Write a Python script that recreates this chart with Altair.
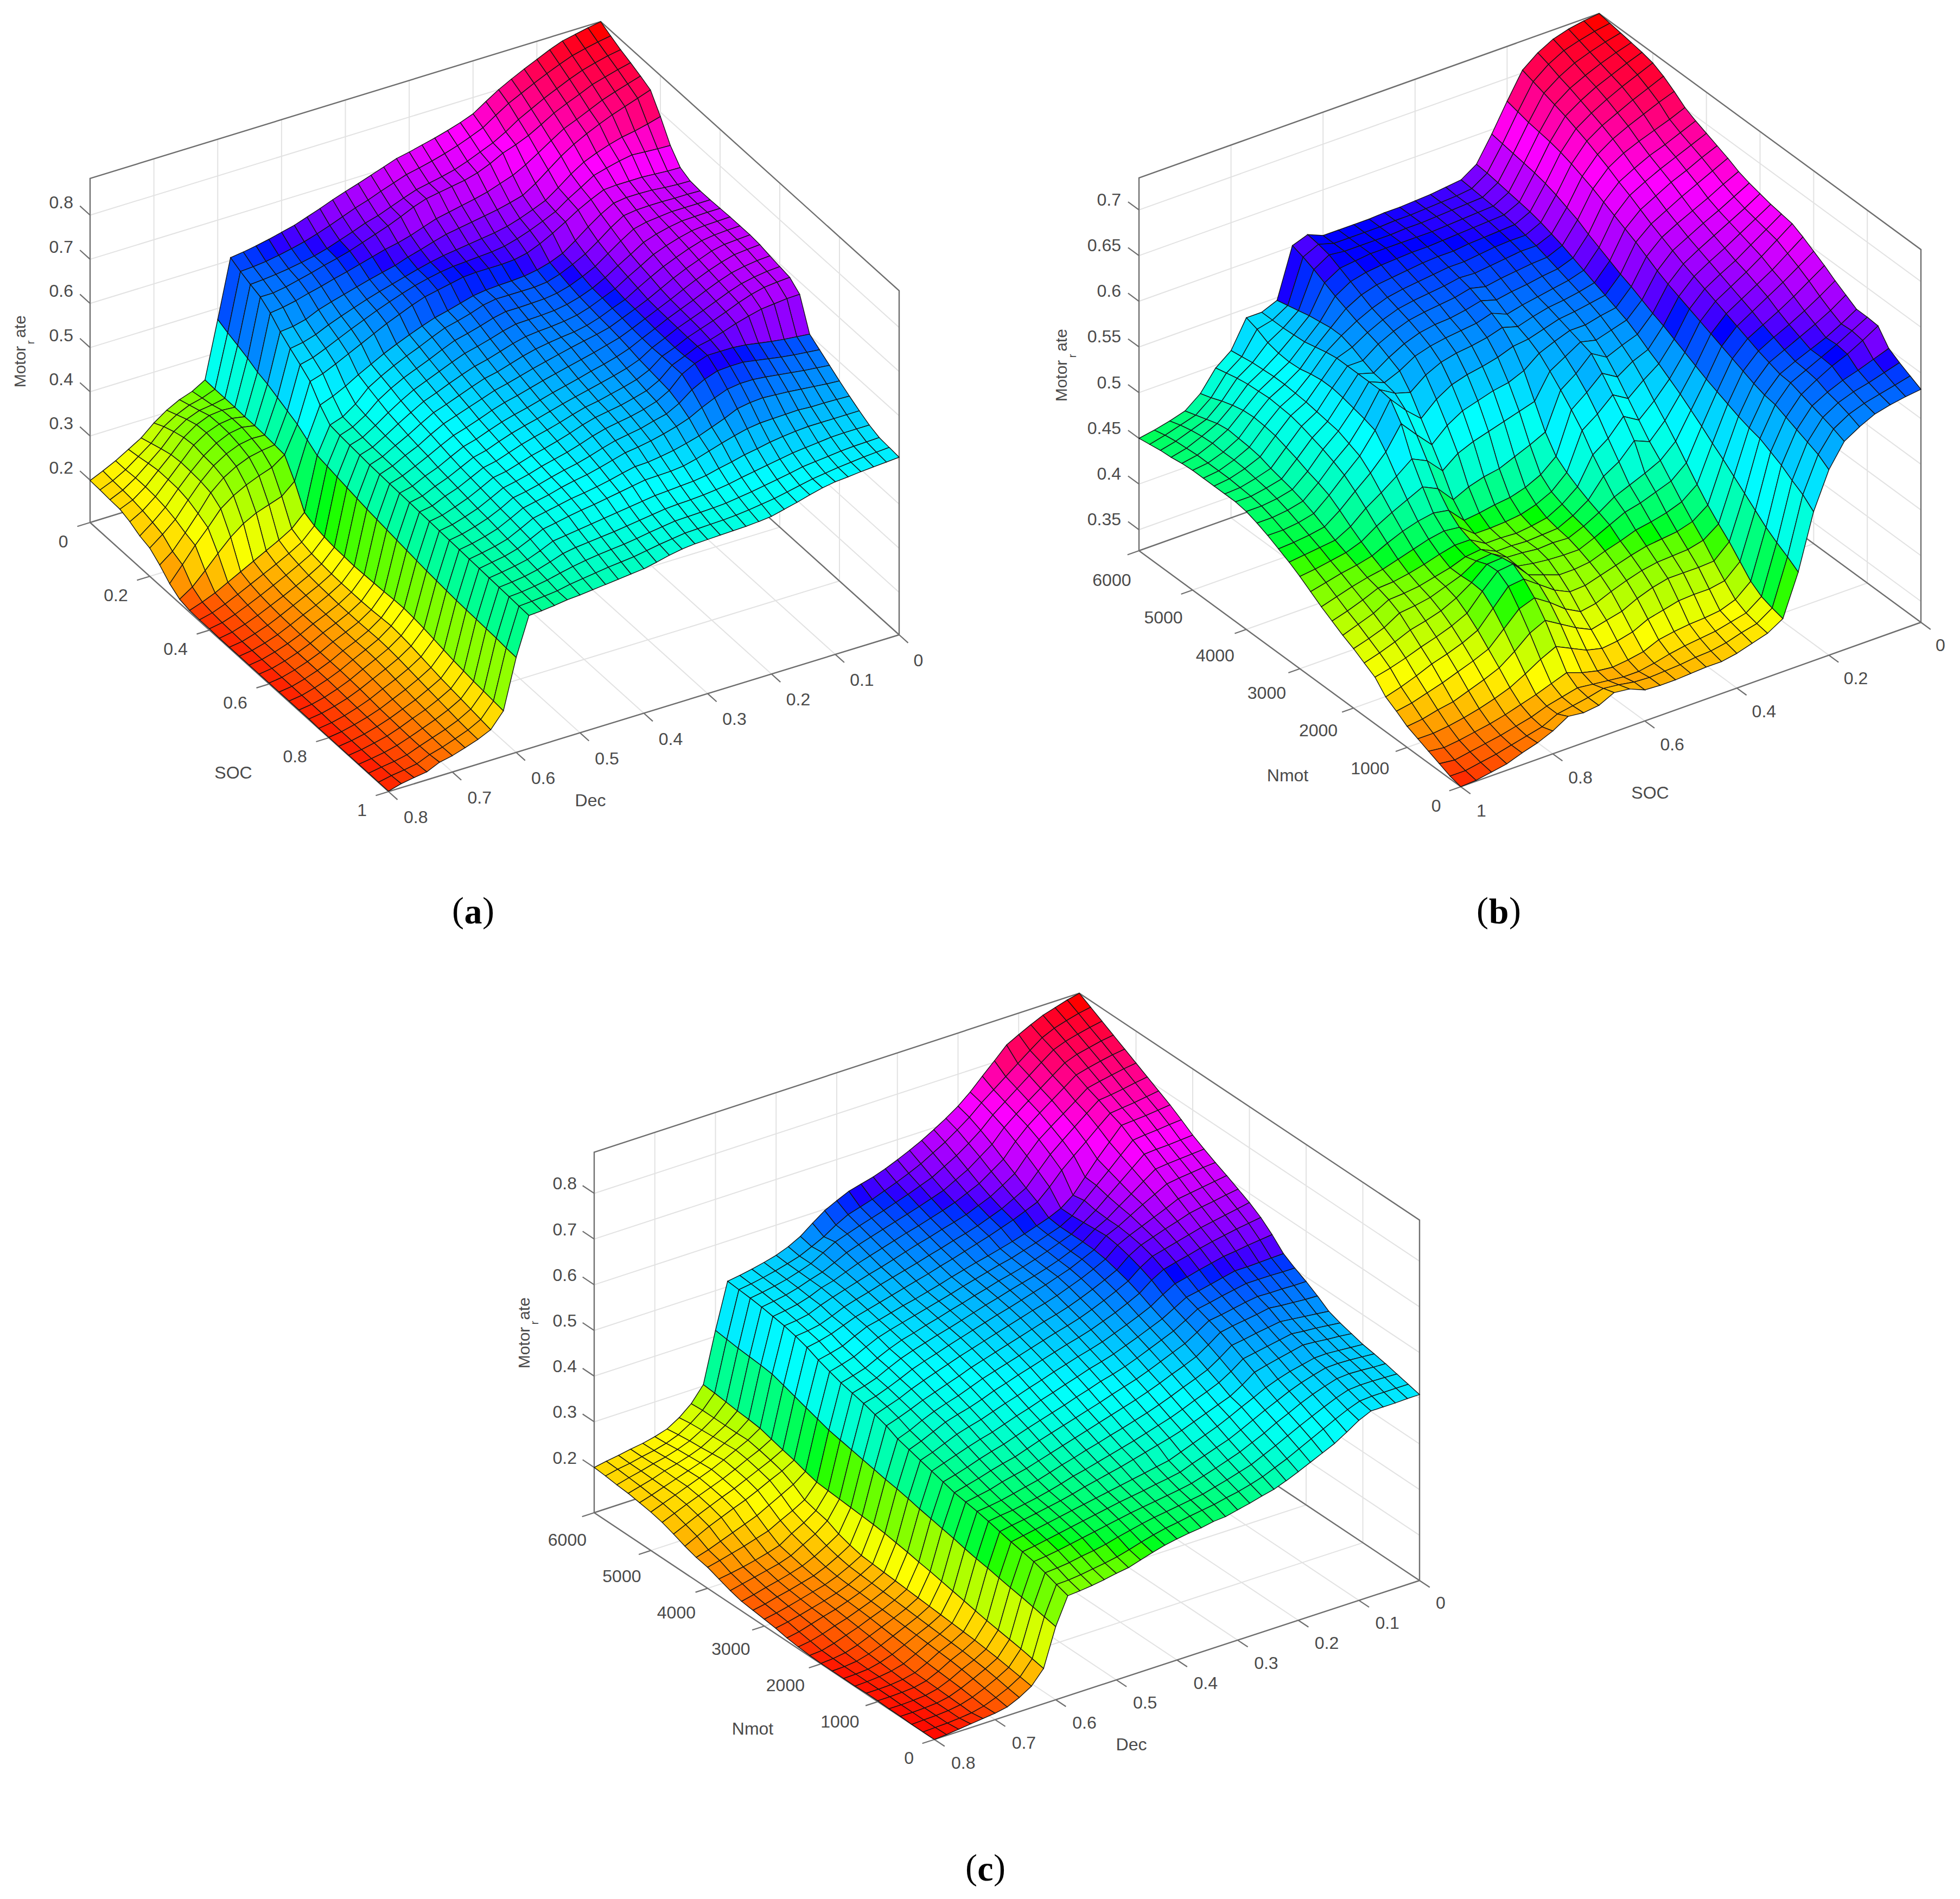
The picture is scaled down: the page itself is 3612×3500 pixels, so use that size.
import altair as alt

# Surface heights, in thousandths (each row: one line of the mesh)
Z_A = [
[883,878,872,866,855,842,829,815,800,782, 763,752,743,735,728,721,715,705,695,685, 676,666,655,645,635,628,621,615,610,606, 475,347,330,320,305,285,260,243,226,212, 199],
[871,866,860,853,842,830,817,803,789,771, 752,740,729,720,712,705,699,689,679,668, 659,648,637,627,618,611,605,600,597,595, 465,346,335,328,315,297,268,247,226,210, 198],
[860,855,848,840,829,816,803,788,773,754, 738,726,714,704,697,691,685,675,664,653, 645,634,624,614,606,600,595,591,588,586, 457,346,340,336,325,306,276,252,228,209, 196],
[851,844,836,828,815,803,790,773,757,745, 735,720,708,700,695,690,685,675,662,650, 640,630,620,612,605,597,590,583,578,578, 448,346,348,345,333,313,283,256,228,207, 195],
[841,832,823,813,800,787,775,757,738,720, 705,695,685,678,672,666,660,650,640,632, 626,618,610,602,595,587,580,572,566,562, 437,345,350,346,335,316,286,256,226,203, 187],
[830,820,810,800,788,775,760,742,720,698, 680,672,665,660,655,650,645,637,628,620, 610,603,596,588,580,572,563,550,543,540, 430,345,350,345,332,312,285,255,222,197, 175],
[790,782,775,770,762,752,740,722,700,680, 668,657,648,642,638,634,630,626,620,613, 605,597,589,580,570,560,549,536,527,522, 420,344,345,340,328,310,283,250,215,190, 168],
[745,746,748,750,745,738,730,712,695,675, 662,650,640,632,628,626,624,622,618,612, 605,596,586,575,563,551,538,525,513,506, 410,342,338,332,320,303,278,240,205,172, 150],
[715,716,718,720,720,720,718,705,690,672, 655,640,628,622,620,620,620,618,612,606, 600,590,578,566,552,538,524,510,497,488, 400,340,320,310,298,283,262,228,197,162, 128],
[705,706,708,711,712,712,708,692,672,650, 630,618,610,605,603,602,600,596,588,580, 573,563,552,540,527,512,497,480,466,455, 385,300,275,265,255,240,218,190,160,132, 113],
[703,704,704,705,705,704,700,682,660,640, 625,612,603,600,600,600,600,595,585,577, 570,558,545,533,520,505,488,460,440,430, 370,250,222,205,190,175,160,145,130,118, 108],
[703,703,703,703,700,697,690,672,652,632, 618,606,598,594,593,592,592,586,577,569, 562,550,537,525,513,498,480,455,437,427, 366,240,212,195,180,166,152,138,125,114, 107],
[704,704,703,702,697,690,680,662,645,627, 612,601,593,588,586,585,584,577,568,560, 553,542,530,518,506,490,472,452,434,425, 362,235,206,190,175,161,147,134,122,112, 107],
[705,704,703,700,693,684,673,656,640,622, 610,598,589,584,581,579,576,569,560,551, 544,534,523,511,500,484,467,449,432,423, 358,232,203,186,171,157,144,131,120,111, 106],
[705,704,702,698,689,678,666,651,635,618, 607,595,586,580,577,573,568,561,552,543, 537,527,516,505,495,479,462,447,431,421, 354,231,201,184,170,156,142,129,119,110, 106],
[705,703,701,695,684,673,660,645,630,617, 605,593,586,580,574,567,560,553,545,537, 530,520,510,500,490,475,458,445,430,420, 350,230,200,183,168,155,141,128,118,110, 106],
[703,701,698,690,680,668,655,641,628,615, 602,590,582,574,567,560,553,546,538,530, 523,514,503,493,484,470,455,441,428,419, 347,231,200,182,168,155,140,128,118,110, 106],
[698,696,692,686,676,664,651,639,627,613, 600,586,576,568,561,553,546,539,531,523, 516,508,498,487,479,465,450,439,425,418, 344,232,200,182,168,155,140,128,118,110, 106],
[694,692,688,682,672,660,648,637,626,612, 599,581,570,562,555,548,541,534,526,518, 511,503,493,482,475,461,447,436,423,417, 341,233,201,182,168,155,140,128,118,110, 106],
[690,688,685,678,668,656,645,635,625,611, 600,578,565,557,550,543,538,530,521,513, 506,498,488,478,472,458,444,434,421,416, 338,235,203,183,168,155,140,128,118,110, 106],
[672,671,668,665,658,650,640,631,625,612, 600,575,560,552,545,540,535,527,517,508, 500,493,484,475,470,455,441,430,420,415, 335,236,205,184,169,155,140,128,118,110, 106],
[602,605,608,612,617,622,625,625,625,615, 600,572,556,547,540,535,530,522,512,503, 496,489,480,473,467,452,438,428,419,414, 332,234,203,183,168,154,139,127,117,110, 106],
[587,590,593,597,602,607,612,612,610,600, 585,563,548,541,533,528,523,515,506,498, 492,485,477,470,465,449,436,426,418,413, 330,231,200,181,166,152,138,126,117,110, 106],
[572,575,578,582,586,590,593,593,589,578, 565,550,540,532,525,520,516,508,500,493, 488,482,474,468,462,447,433,424,417,412, 328,227,196,178,163,150,136,125,116,109, 105],
[557,559,562,565,568,570,572,570,565,552, 541,530,522,515,510,506,505,499,492,486, 481,477,471,465,459,444,430,422,416,411, 326,223,192,175,160,147,134,124,116,109, 105],
[543,544,545,545,547,546,545,544,540,533, 525,516,507,500,497,496,495,490,485,480, 475,471,466,460,455,441,428,420,415,410, 325,219,188,172,157,145,133,123,115,109, 105],
[530,530,530,530,530,528,525,521,515,510, 503,497,490,486,484,482,480,476,472,468, 464,460,456,452,448,435,424,418,413,409, 324,216,185,169,155,144,132,122,115,109, 105],
[518,518,518,517,514,511,508,503,498,493, 488,482,478,475,473,472,470,466,462,458, 454,451,448,445,440,430,421,415,411,408, 323,213,182,166,153,142,131,121,114,109, 105],
[510,509,508,506,503,500,497,491,486,481, 476,472,468,466,465,464,463,459,455,450, 446,443,440,436,431,425,418,413,409,407, 322,211,179,163,151,141,131,120,114,110, 105],
[508,506,504,501,498,494,490,484,478,472, 468,464,461,459,458,457,456,452,448,443, 438,435,432,428,424,420,414,411,408,406, 320,209,176,161,150,140,132,120,115,111, 105],
[506,504,502,500,497,495,490,483,475,468, 461,458,456,455,454,453,452,449,444,437, 431,428,425,422,419,416,414,410,407,405, 319,207,173,160,150,141,135,122,118,113, 105],
]
Z_B = [
[735,733,731,729,727,724,718,710,701,695, 690,685,680,674,670,667,664,662,660,654, 647,640,632,625,618,618,617,601,594,588, 582],
[733,730,727,724,721,717,711,704,694,688, 683,678,672,666,661,657,654,651,648,642, 636,629,621,614,608,609,607,595,589,584, 580],
[730,726,722,718,714,710,704,697,688,681, 676,670,664,657,652,648,644,640,636,630, 625,618,611,605,599,600,598,589,584,580, 577],
[725,721,716,711,707,702,696,690,682,675, 669,663,656,649,644,639,634,629,625,620, 615,608,602,597,592,592,591,584,580,576, 573],
[716,712,707,703,698,693,688,682,675,667, 661,654,647,641,635,630,625,620,615,610, 605,599,594,589,585,584,582,577,574,570, 565],
[703,699,695,691,687,682,677,671,665,658, 652,645,638,632,626,620,615,610,605,600, 595,590,585,581,577,576,572,568,564,560, 555],
[675,672,669,667,665,662,658,653,648,642, 636,630,624,617,610,604,599,594,589,584, 579,574,569,564,560,558,553,548,543,538, 530],
[645,643,641,639,637,634,630,625,620,613, 607,601,595,590,584,578,573,567,561,555, 549,544,539,534,530,527,521,515,507,500, 490],
[618,617,615,613,611,609,606,602,598,593, 588,583,578,573,568,561,553,546,538,530, 521,512,502,493,483,473,463,453,445,438, 430],
[607,606,605,604,603,601,598,595,591,587, 583,579,575,570,563,555,546,534,520,507, 493,478,463,449,437,426,413,400,392,388, 385],
[605,604,604,603,602,600,598,595,590,585, 580,576,572,566,558,548,535,520,505,490, 478,464,450,437,425,411,398,386,380,377, 375],
[603,603,603,602,601,599,597,593,588,582, 577,574,570,566,562,558,545,530,515,497, 470,458,444,432,421,410,395,380,376,373, 370],
[602,602,602,601,600,598,595,591,586,580, 574,570,565,560,552,542,530,515,497,480, 463,452,440,430,420,410,395,378,372,368, 365],
[601,601,601,600,599,596,593,589,583,577, 570,565,560,553,542,530,517,503,485,470, 456,448,437,428,419,410,394,377,370,365, 362],
[601,601,601,600,598,596,593,590,587,582, 577,570,558,540,515,490,472,463,456,450, 445,440,431,424,416,406,390,375,368,364, 362],
[600,600,600,600,598,595,591,587,583,578, 572,565,552,533,510,482,458,448,443,439, 436,432,426,419,411,400,386,372,365,362, 361],
[600,600,600,600,597,593,589,585,581,575, 570,562,548,530,505,475,450,440,434,431, 429,425,420,414,405,392,378,365,361,361, 360],
[600,600,600,600,596,591,587,583,579,574, 568,560,545,525,500,468,445,435,431,430, 430,425,418,409,398,388,374,362,358,360, 360],
[600,600,600,598,594,589,584,580,576,571, 565,556,540,520,495,465,443,433,429,429, 429,426,418,408,395,384,372,360,358,361, 361],
[607,605,602,596,590,584,578,574,570,565, 560,548,530,510,488,460,440,432,430,430, 431,428,424,416,404,392,376,362,360,364, 368],
[601,597,592,586,580,575,570,566,562,556, 550,535,515,495,475,452,438,432,430,430, 432,431,430,428,417,402,384,366,362,366, 370],
[547,550,553,556,558,560,560,556,550,545, 543,540,530,512,492,470,455,445,440,438, 442,446,448,440,428,412,392,372,364,362, 362],
[540,540,540,541,542,545,548,550,550,550, 550,550,548,530,500,478,458,447,440,436, 440,445,446,438,422,404,384,366,360,359, 360],
[540,536,530,527,526,527,530,532,532,530, 527,524,520,505,487,470,455,444,436,430, 430,431,430,420,406,390,374,360,356,356, 362],
[510,512,514,515,516,516,515,514,512,510, 508,503,498,488,475,462,450,439,431,426, 424,420,412,402,390,378,365,355,350,348, 352],
[497,500,503,505,506,507,506,505,502,498, 494,489,483,474,464,453,443,434,427,422, 418,412,404,394,383,371,359,350,346,344, 345],
[475,479,484,488,491,492,491,489,485,481, 476,472,467,459,450,442,435,429,424,420, 415,407,398,388,377,365,354,346,342,340, 340],
[462,466,470,474,476,475,474,472,468,465, 462,458,453,447,441,436,431,426,423,419, 413,403,393,383,371,359,350,343,339,336, 334],
[457,461,464,466,467,466,466,465,463,461, 458,454,449,444,439,433,428,422,416,410, 403,396,387,376,366,356,347,340,336,333, 331],
[453,456,458,459,460,460,460,460,459,458, 456,452,447,442,437,430,424,417,410,404, 397,390,382,370,361,352,345,338,333,330, 328],
[450,452,454,455,457,458,458,458,458,458, 456,452,447,441,435,428,420,412,405,398, 392,385,378,365,358,350,345,340,335,330, 327],
]
Z_C = [
[890,884,876,868,856,843,829,803,778,752, 730,712,696,681,668,656,645,636,629,622, 610,597,578,558,544,534,527,521,516,512, 413,303,270,248,232,224,218,214,209,205, 200],
[876,871,864,856,844,825,805,785,765,745, 722,703,685,670,655,643,632,622,612,604, 596,582,565,552,540,532,525,519,514,510, 410,301,272,252,236,226,219,214,208,204, 198],
[862,857,851,844,834,815,795,775,755,735, 710,690,672,657,642,632,622,613,604,596, 588,579,570,555,540,531,523,517,512,508, 407,298,272,254,239,229,221,215,208,202, 195],
[848,844,838,832,822,803,784,765,745,724, 696,677,658,644,630,621,612,604,596,588, 580,572,563,550,538,530,521,514,509,505, 405,295,272,256,241,231,223,216,207,200, 193],
[834,830,825,819,812,793,774,755,735,710, 680,662,644,632,620,611,603,595,588,580, 572,564,556,546,536,529,518,510,505,501, 403,293,272,258,244,233,224,215,206,197, 189],
[820,816,811,806,800,780,761,742,722,695, 665,648,632,621,610,602,595,587,580,572, 564,556,549,541,533,525,516,505,500,497, 400,290,273,260,247,235,225,215,205,195, 185],
[806,802,797,793,790,770,749,728,706,678, 650,636,622,612,602,594,587,579,572,564, 557,550,543,535,528,520,509,499,494,491, 392,283,268,256,243,231,221,211,201,190, 179],
[792,788,784,781,778,756,733,711,688,660, 636,625,614,605,596,588,580,572,565,557, 550,543,536,529,522,515,505,495,488,483, 384,276,262,250,238,226,216,205,194,182, 170],
[778,775,772,770,768,740,712,681,650,630, 618,609,600,592,585,578,572,565,558,550, 543,536,530,523,516,510,498,485,478,472, 376,270,255,243,230,218,208,197,186,173, 160],
[762,760,757,755,752,728,703,679,655,630, 615,606,597,589,581,575,568,561,554,546, 539,532,525,518,511,503,491,478,470,463, 368,262,242,228,214,200,190,180,170,160, 152],
[745,743,741,740,738,716,694,672,650,632, 615,605,595,586,578,571,565,557,550,542, 535,527,520,512,505,495,483,470,462,455, 360,255,225,210,197,183,175,167,160,153, 147],
[731,729,727,725,722,704,685,667,648,634, 615,603,592,583,575,568,561,553,546,538, 530,522,515,507,499,490,478,465,456,449, 355,253,218,200,185,168,160,153,147,142, 138],
[718,716,713,710,706,692,678,663,648,636, 614,602,590,581,572,564,556,548,541,533, 525,517,509,500,492,483,471,460,450,443, 350,251,212,192,177,162,153,147,141,135, 129],
[706,702,698,694,690,678,667,656,645,632, 610,597,585,575,565,557,550,542,534,526, 518,510,502,493,484,475,465,453,444,435, 345,249,200,183,168,156,148,141,135,128, 122],
[693,689,684,680,675,666,658,649,640,625, 603,590,578,567,557,549,542,534,526,518, 510,502,494,484,475,466,457,446,436,427, 340,247,192,176,162,151,144,137,131,124, 119],
[680,675,670,665,660,653,646,639,632,616, 595,582,570,559,549,541,534,526,518,510, 502,494,486,476,466,458,449,438,425,415, 335,245,186,171,158,148,141,134,127,121, 116],
[664,660,656,651,646,640,633,627,620,605, 585,572,560,550,540,532,525,517,509,501, 493,484,476,466,457,450,442,430,418,408, 331,242,184,169,156,146,138,131,124,118, 113],
[643,640,637,633,630,624,618,611,605,590, 573,561,550,540,530,522,515,507,499,490, 482,473,465,456,447,440,432,421,410,401, 326,238,182,167,155,145,136,129,121,113, 108],
[618,617,616,615,615,609,603,597,592,577, 562,551,540,530,520,512,505,496,488,479, 471,462,454,445,436,429,421,412,403,394, 320,234,180,165,153,143,133,125,116,109, 105],
[603,603,604,604,604,599,594,588,583,567, 552,541,530,519,509,501,494,485,477,468, 460,452,444,435,426,419,411,402,394,387, 315,229,178,163,151,141,130,121,112,105, 103],
[590,590,591,591,592,588,583,578,574,557, 541,530,519,508,498,490,482,473,465,457, 449,441,433,424,415,409,402,394,387,380, 310,225,176,161,149,138,127,116,108,104, 102],
[575,576,578,580,583,578,574,570,565,546, 529,518,508,497,487,478,470,462,454,446, 438,430,422,414,406,400,394,386,381,376, 305,220,174,159,147,135,123,113,106,103, 102],
[558,561,564,567,570,566,562,557,553,534, 517,506,496,485,475,466,458,450,443,435, 428,420,413,405,397,391,385,379,375,372, 299,215,172,157,145,132,120,111,105,103, 102],
[549,552,555,557,560,555,550,545,540,521, 505,494,484,473,463,455,447,439,432,425, 418,411,405,397,390,384,379,374,371,367, 294,210,170,155,143,129,116,109,105,103, 102],
[542,545,547,550,552,546,540,534,527,508, 492,482,472,462,452,444,437,430,423,416, 410,404,398,391,385,380,375,370,366,361, 290,205,168,153,141,126,113,107,104,103, 103],
[535,537,539,541,540,534,528,520,510,497, 485,472,460,450,440,430,420,415,410,405, 400,395,390,385,380,375,370,365,360,355, 285,200,166,151,139,124,112,106,104,103, 103],
[531,533,535,536,535,528,520,510,498,486, 473,460,448,439,430,421,411,406,402,397, 393,389,384,379,374,369,364,359,354,350, 280,196,163,148,136,122,111,105,103,102, 102],
[526,527,529,530,528,520,511,500,487,475, 461,449,437,428,419,411,403,398,394,390, 386,382,377,372,367,362,357,352,348,345, 276,192,160,145,132,120,110,105,103,102, 102],
[520,521,522,522,520,511,500,488,476,463, 450,438,426,418,410,403,396,392,388,384, 380,375,369,363,356,351,347,342,339,337, 271,188,156,141,128,117,109,105,103,102, 101],
[514,514,514,514,512,502,490,477,464,451, 438,427,416,408,401,396,390,386,382,377, 373,367,360,352,345,340,336,332,329,328, 266,183,152,136,124,114,108,105,103,102, 101],
[508,508,507,507,507,495,478,462,450,438, 426,415,405,399,392,386,380,378,373,370, 366,361,354,346,338,334,329,325,322,320, 261,178,148,132,120,115,112,109,106,103, 101],
]

HSV = ["#ff0000", "#ffff00", "#00ff00", "#00ffff", "#0000ff", "#ff00ff", "#ff0000"]
STOPS_B = [.327, .385, .44, .525, .60, .67, .735]
SOC_TICKS = ["0", "0.2", "0.4", "0.6", "0.8", "1"]
DEC_TICKS = ["0", "0.1", "0.2", "0.3", "0.4", "0.5", "0.6", "0.7", "0.8"]
NMOT_TICKS = ["6000", "5000", "4000", "3000", "2000", "1000", "0"]
Z_TICKS_A = [0.2, 0.3, 0.4, 0.5, 0.6, 0.7, 0.8]
Z_TICKS_B = [0.35, 0.4, 0.45, 0.5, 0.55, 0.6, 0.65, 0.7]

PROJ = dict(type="identity", scale=1, translate=[-8, -8])
TXT = "#4a4a4a"
SANS = "Liberation Sans"
SERIF = "Liberation Serif"

PANELS = [
    dict(Z=Z_A, rows_to="C", D=(1107, 674), A=(166, 963), C=(1657, 1170), z0=.104, k=814, top=.883,
         a_ticks=DEC_TICKS, c_ticks=SOC_TICKS, ztick=Z_TICKS_A, zfmt="{:g}", zdy=-22, zright=135,
         ab_labels=SOC_TICKS, ab=((125.6, 998.5), (676, 1494)),
         bc_labels=DEC_TICKS, bc=((1683.6, 1218), (744, 1507)),
         ab_name=("SOC", 430, 1425), bc_name=("Dec", 1088, 1476),
         motor=(38, 676, 57, 631, 602), tag=("a", 872, 1682, 17)),
    dict(Z=Z_B, rows_to="A", D=(2947, 712), A=(2099, 1015), C=(3540, 1147), z0=.327, k=1684, top=.735, stops=STOPS_B,
         a_ticks=SOC_TICKS, c_ticks=NMOT_TICKS, ztick=Z_TICKS_B, zfmt="{:g}", zdy=-18, zright=2066,
         ab_labels=NMOT_TICKS, ab=((2084.5, 1070), (2655.5, 1486)),
         bc_labels=SOC_TICKS, bc=((3567, 1190), (2721, 1495)),
         ab_name=("Nmot", 2373, 1430), bc_name=("SOC", 3041, 1462),
         motor=(1957, 702, 1977, 656, 627), tag=("b", 2762, 1682, 19)),
    dict(Z=Z_C, rows_to="C", D=(1989, 2495), A=(1095, 2788), C=(2616, 2913), z0=.101, k=842, top=.89,
         a_ticks=DEC_TICKS, c_ticks=NMOT_TICKS, ztick=Z_TICKS_A, zfmt="{:g}", zdy=-17, zright=1063,
         ab_labels=NMOT_TICKS, ab=((1081, 2839), (1684, 3241)),
         bc_labels=DEC_TICKS, bc=((2646, 2955), (1753, 3250)),
         ab_name=("Nmot", 1387, 3187), bc_name=("Dec", 2085, 3216),
         motor=(967, 2484, 986, 2438, 2412), tag=("c", 1816, 3446, 15)),
]


def pt(p, fa, fc, z):
    """Parallel projection of the 3-D box: fa runs D->A, fc runs D->C."""
    D, A, C = p["D"], p["A"], p["C"]
    return [D[0] + fa * (A[0] - D[0]) + fc * (C[0] - D[0]),
            D[1] + fa * (A[1] - D[1]) + fc * (C[1] - D[1]) - (z - p["z0"]) * p["k"]]


def line(*pts):
    return {"type": "Feature", "properties": {}, "geometry": {"type": "LineString", "coordinates": [list(q) for q in pts]}}


def shape_lines(items, color, width):
    return alt.Chart(alt.Data(values=items)).mark_geoshape(filled=False, stroke=color, strokeWidth=width).project(**PROJ)


def text_layer(rows, align, size=32, font=SANS, color=TXT, **kw):
    return alt.Chart(alt.Data(values=rows)).mark_text(
        align=align, baseline="middle", fontSize=size, font=font, color=color, **kw
    ).encode(longitude="x:Q", latitude="y:Q", text="t:N").project(**PROJ)


def surface(p):
    Z = p["Z"]
    nr, nc = len(Z) - 1, len(Z[0]) - 1
    feats = []
    for r in range(nr):
        for c in range(nc):
            q = [(r, c), (r + 1, c), (r + 1, c + 1), (r, c + 1), (r, c)]
            ring = []
            for rr, cc in q:
                fr, fc = rr / nr, cc / nc
                fa_, fc_ = (fc, fr) if p["rows_to"] == "C" else (fr, fc)
                ring.append(pt(p, fa_, fc_, Z[rr][cc] / 1000))
            feats.append({"type": "Feature", "properties": {"z": Z[r][c] / 1000},
                          "geometry": {"type": "Polygon", "coordinates": [ring]}})
    lo = min(min(r) for r in Z) / 1000
    hi = max(max(r) for r in Z) / 1000
    dom = p.get("stops") or [lo + i / 6 * (hi - lo) for i in range(7)]
    return alt.Chart(alt.Data(values=feats)).mark_geoshape(stroke="#141414", strokeWidth=1.4).encode(
        color=alt.Color("properties.z:Q", scale=alt.Scale(domain=dom, range=HSV), legend=None)
    ).project(**PROJ)


def panel_layers(p):
    z0, top = p["z0"], p["top"]
    na, nc = len(p["a_ticks"]) - 1, len(p["c_ticks"]) - 1
    grid = []
    for i in range(na + 1):
        fa = i / na
        grid.append(line(pt(p, fa, 0, z0), pt(p, fa, 0, top)))
        grid.append(line(pt(p, fa, 0, z0), pt(p, fa, 1, z0)))
    for i in range(nc + 1):
        fc = i / nc
        grid.append(line(pt(p, 0, fc, z0), pt(p, 0, fc, top)))
        grid.append(line(pt(p, 0, fc, z0), pt(p, 1, fc, z0)))
    for z in p["ztick"]:
        grid.append(line(pt(p, 1, 0, z), pt(p, 0, 0, z), pt(p, 0, 1, z)))

    box = [line(pt(p, 1, 0, z0), pt(p, 1, 0, top), pt(p, 0, 0, top), pt(p, 0, 1, top), pt(p, 0, 1, z0)),
           line(pt(p, 1, 0, z0), pt(p, 0, 0, z0), pt(p, 0, 1, z0)),
           line(pt(p, 1, 0, z0), pt(p, 1, 1, z0), pt(p, 0, 1, z0))]
    ticks = []
    for z in p["ztick"]:
        ticks.append(line(pt(p, 1, 0, z), pt(p, 1, -.034, z)))
    for i in range(nc + 1):
        fc = i / nc
        ticks.append(line(pt(p, 1, fc, z0), pt(p, 1.025, fc, z0)))
    for i in range(na + 1):
        fa = i / na
        ticks.append(line(pt(p, fa, 1, z0), pt(p, fa, 1.03, z0)))

    def along(labels, ends):
        n = len(labels) - 1
        (x0, y0), (x1, y1) = ends
        return [{"x": x0 + (x1 - x0) * i / n, "y": y0 + (y1 - y0) * i / n, "t": t} for i, t in enumerate(labels)]

    zlab = [{"x": p["zright"], "y": pt(p, 1, 0, z)[1] + p["zdy"], "t": p["zfmt"].format(z)} for z in p["ztick"]]
    names = [{"x": n[1], "y": n[2], "t": n[0]} for n in (p["ab_name"], p["bc_name"])]
    mx, my, rx, ry, ay = p["motor"]
    letter, tx, ty, gap = p["tag"]
    return [
        shape_lines(grid, "#e2e2e2", 2),
        shape_lines(box, "#6e6e6e", 2.4),
        shape_lines(ticks, "#6e6e6e", 2.2),
        surface(p),
        text_layer(zlab, "right"),
        text_layer(along(p["ab_labels"], p["ab"]), "right"),
        text_layer(along(p["bc_labels"], p["bc"]), "left"),
        text_layer(names, "center"),
        text_layer([{"x": mx, "y": my, "t": "Motor"}, {"x": mx, "y": ay, "t": "ate"}], "center", size=30, angle=270),
        text_layer([{"x": rx, "y": ry, "t": "r"}], "center", size=21, angle=270),
        text_layer([{"x": tx, "y": ty, "t": letter}], "center", size=66, font=SERIF, color="#000000", fontWeight="bold"),
        text_layer([{"x": tx - gap, "y": ty - 3, "t": "("}], "right", size=66, font=SERIF, color="#000000"),
        text_layer([{"x": tx + gap, "y": ty - 3, "t": ")"}], "left", size=66, font=SERIF, color="#000000"),
    ]


layers = []
for panel in PANELS:
    layers.extend(panel_layers(panel))

chart = (alt.layer(*layers)
         .resolve_scale(color="independent")
         .properties(width=3596, height=3484, padding=0, autosize="none")
         .configure_view(stroke=None))
chart.save("out.html", embed_options={"renderer": "svg", "actions": False})
